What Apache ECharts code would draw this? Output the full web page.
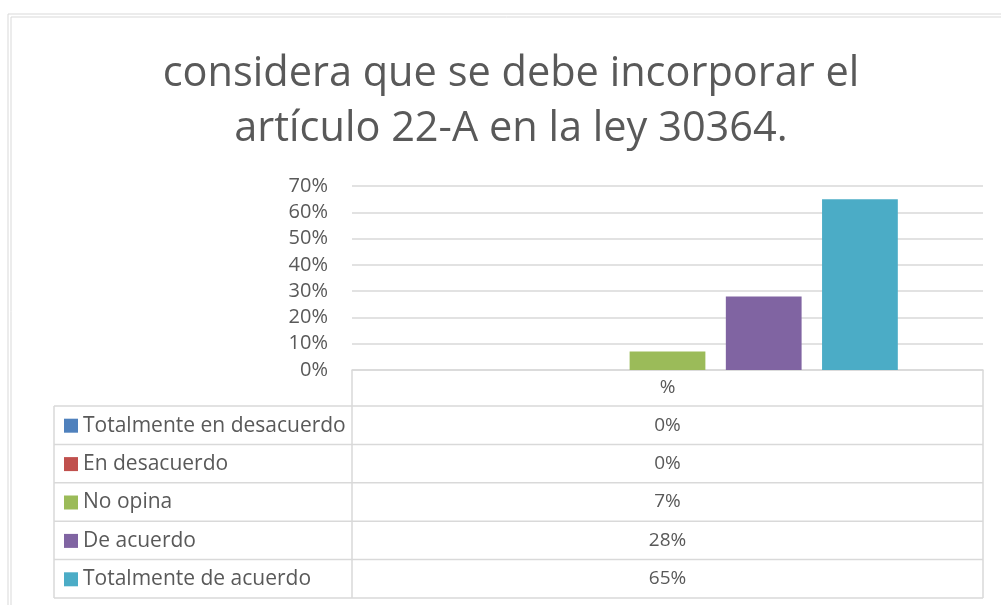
<!DOCTYPE html>
<html>
<head>
<meta charset="utf-8">
<script src="https://cdn.jsdelivr.net/npm/echarts@6/dist/echarts.min.js"></script>
<style>
html,body{margin:0;padding:0;background:#fff}
#chart{width:1001px;height:605px}
</style>
</head>
<body>
<div id="chart"></div>
<script>
// datos del grafico
var titulo = 'considera que se debe incorporar el\nartículo 22-A en la ley 30364.';
var categorias = ['%'];
var nombres = ['Totalmente en desacuerdo', 'En desacuerdo', 'No opina', 'De acuerdo', 'Totalmente de acuerdo'];
var valores = [0, 0, 0.07, 0.28, 0.65];
var colores = ['#4f81bd', '#c0504d', '#9bbb59', '#8064a2', '#4bacc6'];
var ejeMax = 0.7;
var ejePaso = 0.1;

var fuente = 'Open Sans';
var gris = '#595959';
var linea = '#d9d9d9';

// tabla de datos bajo el grafico
var tablaIzq = 54, tablaCol = 352, tablaDer = 983;
var tablaTop = 370, cabAlto = 36, filaAlto = 38.4;

function pct(v) { return Math.round(v * 100) + '%'; }

var myChart = echarts.init(document.getElementById('chart'));

var graficos = [
    { type: 'rect', shape: { x: 8, y: 14, width: 1100, height: 700 }, style: { fill: 'none', stroke: linea, lineWidth: 1 }, silent: true },
    { type: 'rect', shape: { x: 11, y: 17, width: 1100, height: 700 }, style: { fill: 'none', stroke: linea, lineWidth: 1 }, silent: true }
];
var fondo = tablaTop + cabAlto + filaAlto * nombres.length;
// lineas horizontales
for (var i = 0; i <= nombres.length; i++) {
    var y = tablaTop + cabAlto + filaAlto * i;
    graficos.push({ type: 'line', shape: { x1: tablaIzq, y1: y, x2: tablaDer, y2: y }, style: { stroke: linea, lineWidth: 1.5 }, silent: true });
}
// lineas verticales
graficos.push({ type: 'line', shape: { x1: tablaIzq, y1: tablaTop + cabAlto, x2: tablaIzq, y2: fondo }, style: { stroke: linea, lineWidth: 1.5 }, silent: true });
graficos.push({ type: 'line', shape: { x1: tablaCol, y1: tablaTop, x2: tablaCol, y2: fondo }, style: { stroke: linea, lineWidth: 1.5 }, silent: true });
graficos.push({ type: 'line', shape: { x1: tablaDer, y1: tablaTop, x2: tablaDer, y2: fondo }, style: { stroke: linea, lineWidth: 1.5 }, silent: true });
// valores de la tabla
valores.forEach(function (v, i) {
    graficos.push({
        type: 'text',
        x: (tablaCol + tablaDer) / 2,
        y: tablaTop + cabAlto + filaAlto * (i + 0.5),
        style: { text: pct(v), fill: gris, font: '19px "' + fuente + '"', align: 'center', verticalAlign: 'middle' },
        silent: true
    });
});

myChart.setOption({
    animation: false,
    textStyle: { fontFamily: fuente },
    title: {
        text: titulo,
        left: 506,
        top: 42,
        textAlign: 'center',
        textStyle: { color: gris, fontSize: 41.5, fontWeight: 'normal', lineHeight: 55, fontFamily: fuente }
    },
    legend: {
        data: nombres,
        orient: 'vertical',
        left: 64,
        top: tablaTop + cabAlto + filaAlto / 2 - 10,
        padding: 0,
        itemWidth: 14,
        itemHeight: 14,
        itemGap: filaAlto - 21,
        icon: 'rect',
        selectedMode: false,
        textStyle: { color: gris, fontSize: 21, lineHeight: 20, fontFamily: fuente }
    },
    grid: {
        left: tablaCol,
        right: 1001 - tablaDer,
        top: 186,
        bottom: 605 - tablaTop
    },
    xAxis: {
        type: 'category',
        data: categorias,
        axisTick: { show: false },
        axisLine: { lineStyle: { color: linea, width: 1.5 } },
        axisLabel: { color: gris, fontSize: 19, margin: 8 }
    },
    yAxis: {
        type: 'value',
        min: 0,
        max: ejeMax,
        interval: ejePaso,
        axisLine: { show: false },
        axisTick: { show: false },
        splitLine: { lineStyle: { color: linea, width: 1.5 } },
        axisLabel: { color: gris, fontSize: 20, margin: 24, formatter: pct }
    },
    series: nombres.map(function (n, i) {
        return {
            name: n,
            type: 'bar',
            data: [valores[i]],
            itemStyle: { color: colores[i] },
            barGap: '27%',
            barCategoryGap: '27%'
        };
    }),
    graphic: graficos
});
</script>
</body>
</html>
